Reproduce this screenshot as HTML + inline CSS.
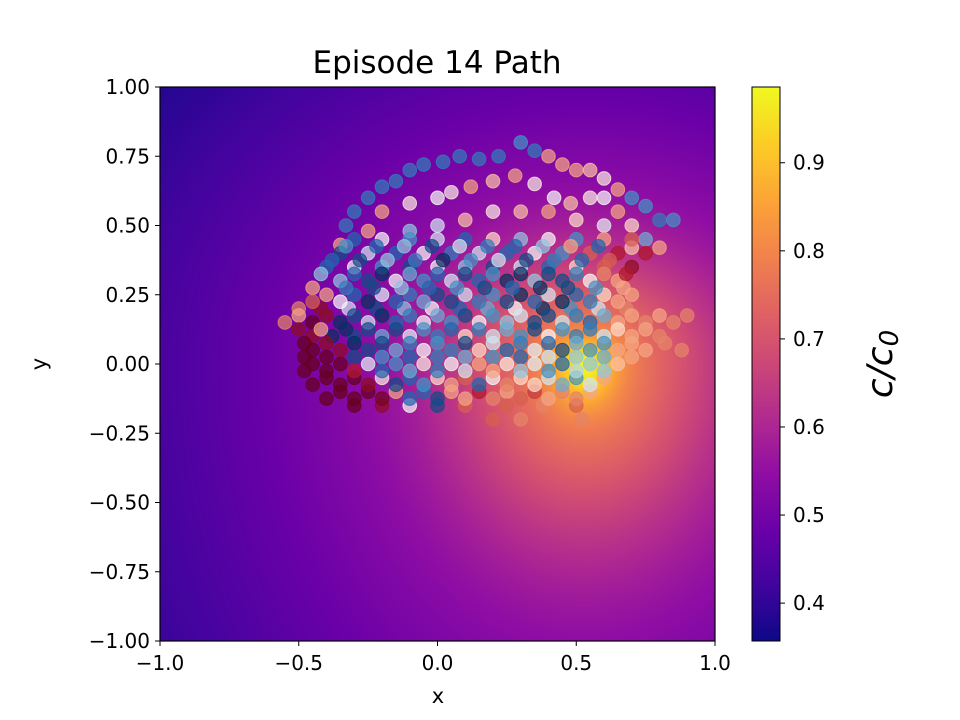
<!DOCTYPE html>
<html><head><meta charset="utf-8"><style>
body{margin:0;background:#fff;}
#wrap{position:relative;width:960px;height:720px;font-family:"Liberation Sans","DejaVu Sans",sans-serif;}
canvas{position:absolute;}
svg{position:absolute;left:0;top:0;}
text{font-family:"DejaVu Sans","Liberation Sans",sans-serif;fill:#000;}
</style></head><body>
<div id="wrap">
<canvas id="heat" width="555" height="554" style="left:160px;top:87px"></canvas>
<canvas id="cbar" width="28" height="554" style="left:752px;top:87px"></canvas>
<svg id="svg" width="960" height="720">
<g id="pts"></g>
<rect x="160" y="87" width="555" height="554" fill="none" stroke="#000" stroke-width="1.2"/>
<rect x="752" y="87" width="28" height="554" fill="none" stroke="#000" stroke-width="1"/>
<g id="axes"></g>
<text x="437" y="73" font-size="31" text-anchor="middle">Episode 14 Path</text>
<text x="438" y="703" font-size="21" text-anchor="middle">x</text>
<text x="0" y="0" font-size="21" text-anchor="middle" transform="translate(46,364) rotate(-90)">y</text>
<text x="0" y="0" font-size="36" font-style="italic" text-anchor="middle" transform="translate(892,364) rotate(-90)">c/c<tspan font-size="26" dy="6">0</tspan></text>
</svg>
</div>
<script>
const xTicks=[-1.0,-0.5,0.0,0.5,1.0];
const yTicks=[-1.0,-0.75,-0.5,-0.25,0.0,0.25,0.5,0.75,1.0];
const cTicks=[0.4,0.5,0.6,0.7,0.8,0.9];
const cMin=0.357, cMax=0.986;
const peakX=0.53, peakY=0.0;
const ringX=[-0.1,-0.05,0.02,0.08,0.15,0.22,0.3,0.35,0.4,0.45,0.5,0.55,0.6,0.65,0.7,0.75,0.8,0.85,-0.15,-0.2,-0.25,-0.3,-0.33,
 -0.2,-0.1,0,0.05,0.12,0.2,0.28,0.35,0.42,0.48,0.55,0.6,0.65,0.7,0.75,0.8,0.7,0.6,0.5,0.4,0.3,0.2,0.1,0,-0.1,-0.25,-0.35];
const ringY=[0.7,0.72,0.73,0.75,0.74,0.75,0.8,0.77,0.75,0.72,0.7,0.7,0.67,0.63,0.6,0.57,0.52,0.52,0.66,0.64,0.6,0.55,0.5,
 0.55,0.58,0.6,0.62,0.64,0.66,0.68,0.65,0.6,0.58,0.6,0.6,0.55,0.5,0.45,0.42,0.42,0.5,0.52,0.55,0.55,0.55,0.52,0.5,0.48,0.48,0.43];
const ringC=[0.85,0.85,0.85,0.85,0.85,0.85,0.8,0.85,0.3,0.3,0.3,0.35,0.45,0.3,0.8,0.8,0.85,0.8,0.85,0.85,0.85,0.85,0.85,
 0.3,0.45,0.5,0.45,0.3,0.35,0.3,0.45,0.5,0.35,0.45,0.5,0.3,0.4,0.75,0.3,0.35,0.55,0.4,0.3,0.35,0.45,0.35,0.6,0.7,0.3,0.3];
const rowYs=[0.45,0.4,0.35,0.3,0.25,0.2,0.15,0.1,0.05,0.0,-0.05,-0.1,-0.15,-0.2,
 0.425,0.375,0.325,0.275,0.225,0.175,0.125,0.075,0.025,-0.025,-0.075,-0.125];
const rowXs=[
[-0.3,-0.2,-0.1,0.0,0.1,0.2,0.3,0.4,0.5,0.6,0.7],
[-0.35,-0.25,-0.15,-0.05,0.05,0.15,0.25,0.35,0.45,0.55,0.65,0.75],
[-0.4,-0.3,-0.2,-0.1,0,0.1,0.2,0.3,0.4,0.5,0.6,0.7],
[-0.35,-0.25,-0.15,-0.05,0.05,0.15,0.25,0.35,0.45,0.55,0.65],
[-0.4,-0.3,-0.2,-0.1,0,0.1,0.2,0.3,0.4,0.5,0.6,0.7],
[-0.5,-0.42,-0.32,-0.22,-0.12,-0.02,0.08,0.18,0.28,0.38,0.48,0.58,0.68],
[-0.55,-0.45,-0.35,-0.25,-0.15,-0.05,0.05,0.15,0.25,0.35,0.45,0.55,0.65,0.75,0.85],
[-0.45,-0.38,-0.3,-0.2,-0.1,0,0.1,0.2,0.3,0.4,0.5,0.6,0.7,0.8],
[-0.45,-0.35,-0.25,-0.15,-0.05,0.05,0.15,0.25,0.35,0.45,0.55,0.65,0.75,0.88],
[-0.45,-0.35,-0.25,-0.15,-0.05,0.05,0.15,0.25,0.35,0.45,0.55,0.65],
[-0.4,-0.3,-0.2,-0.1,0,0.1,0.2,0.3,0.4,0.5,0.6],
[-0.35,-0.25,-0.15,-0.05,0.05,0.15,0.25,0.35,0.45,0.55],
[-0.3,-0.2,-0.1,0,0.1,0.25,0.38,0.5],
[0.2,0.3,0.52],
[-0.33,-0.22,-0.12,-0.02,0.08,0.18,0.28,0.38,0.48,0.58],
[-0.38,-0.28,-0.18,-0.08,0.02,0.12,0.22,0.32,0.42,0.52,0.62],
[-0.42,-0.3,-0.2,-0.1,0,0.1,0.2,0.3,0.4,0.5,0.6,0.68],
[-0.45,-0.33,-0.23,-0.13,-0.03,0.07,0.17,0.27,0.37,0.47,0.57,0.67],
[-0.45,-0.35,-0.25,-0.15,-0.05,0.05,0.15,0.25,0.35,0.45,0.55,0.65],
[-0.5,-0.4,-0.3,-0.2,-0.1,0,0.1,0.2,0.3,0.4,0.5,0.6,0.7,0.8,0.9],
[-0.5,-0.42,-0.33,-0.25,-0.15,-0.05,0.05,0.15,0.25,0.35,0.45,0.55,0.65,0.75],
[-0.48,-0.4,-0.3,-0.2,-0.1,0,0.1,0.2,0.3,0.4,0.5,0.6,0.7,0.82],
[-0.48,-0.4,-0.3,-0.2,-0.1,0,0.1,0.2,0.3,0.4,0.5,0.6,0.7],
[-0.48,-0.4,-0.3,-0.2,-0.1,0,0.1,0.2,0.3,0.4,0.5,0.6],
[-0.45,-0.35,-0.25,-0.15,-0.05,0.05,0.15,0.25,0.35,0.45,0.55],
[-0.4,-0.3,-0.2,-0.1,0,0.1,0.2,0.3,0.4,0.5]];
const rowCs=[
[0.9,0.5,0.8,0.6,0.9,0.4,0.7,0.5,0.8,0.3,0.2],
[0.95,0.6,0.9,0.5,0.85,0.6,0.9,0.5,0.8,0.2,0.1,0.1],
[0.9,0.5,0.8,0.95,0.5,0.7,0.95,0.6,0.9,0.4,0.2,0.05],
[0.7,0.95,0.5,0.8,0.6,0.9,1,0.7,0.95,0.5,0.3],
[0.3,0.9,0.55,0.85,0.95,0.6,0.8,1,0.6,0.9,0.4,0.3],
[0.25,0.05,0.6,0.95,0.7,0.5,0.9,0.75,0.5,1,0.8,0.6,0.25],
[0.25,0.0,1,0.6,0.9,0.5,0.8,0.5,0.7,0.95,0.6,0.9,0.3,0.25,0.25],
[0.05,1,0.95,0.75,0.55,0.85,0.4,0.6,0.8,0.5,0.85,0.6,0.3,0.25],
[0.0,0.05,0.95,0.75,0.5,0.85,0.4,0.9,0.55,0.95,0.8,0.3,0.3,0.25],
[0.0,0.0,0.55,0.8,0.45,0.5,0.3,0.45,0.55,0.9,0.7,0.35],
[0.0,0.0,0.45,0.9,0.4,0.2,0.5,0.4,0.6,0.8,0.3],
[0.0,0.0,0.3,0.9,0.3,0.1,0.3,0.15,0.25,0.3],
[0.0,0.05,0.5,0.95,0.2,0.2,0.25,0.2],
[0.2,0.25,0.25],
[0.8,0.9,0.7,0.95,0.6,0.85,0.9,0.7,0.3,0.9],
[0.9,0.95,0.7,0.85,1,0.8,0.6,0.95,0.85,0.9,0.2],
[0.7,0.9,1,0.75,0.9,0.95,0.8,1,0.95,0.85,0.25,0.1],
[0.3,0.85,0.95,0.7,0.9,0.8,0.95,0.9,1,0.95,0.8,0.3],
[0.2,0.5,1,0.9,0.75,0.95,0.85,0.95,0.9,1,0.85,0.3],
[0.3,0.05,0.95,1,0.85,0.75,0.95,0.8,0.6,0.95,0.85,0.75,0.3,0.3,0.25],
[0.05,0.3,1,0.95,0.95,0.8,0.9,0.85,0.75,0.95,0.8,0.85,0.4,0.3],
[0,0.05,1,0.95,0.85,0.8,0.95,0.6,0.85,0.9,0.75,0.8,0.3,0.25],
[0,0,0.95,0.8,0.9,0.85,0.75,0.8,0.9,0.6,0.7,0.75,0.3],
[0,0,0.1,0.9,0.75,0.85,0.6,0.3,0.7,0.8,0.65,0.7],
[0,0,0.05,0.95,0.8,0.3,0.9,0.25,0.4,0.75,0.6],
[0,0,0.02,0.9,0.95,0.3,0.25,0.2,0.3,0.25]];

const PX0=160,PX1=715,PY0=87,PY1=641;
function sx(x){return PX0+(x+1)/2*(PX1-PX0);}
function sy(y){return PY1-(y+1)/2*(PY1-PY0);}
function cy(c){return PY1-(c-cMin)/(cMax-cMin)*(PY1-PY0);}
function lerpStops(stops,t){t=Math.max(0,Math.min(1,t));const n=stops.length-1;const i=Math.min(n-1,Math.floor(t*n));const f=t*n-i;
 const a=stops[i],b=stops[i+1];return [0,1,2].map(k=>Math.round(a[k]+(b[k]-a[k])*f));}
function hex(h){return [parseInt(h.substr(1,2),16),parseInt(h.substr(3,2),16),parseInt(h.substr(5,2),16)];}
const plasma=['#0d0887','#41049d','#6a00a8','#8f0da4','#b12a90','#cc4778','#e16462','#f2844b','#fca636','#fcce25','#f0f921'].map(hex);
const rdbu=['#67001f','#b2182b','#d6604d','#f4a582','#fddbc7','#f7f7f7','#d1e5f0','#92c5de','#4393c3','#2166ac','#053061'].map(hex);
function field(x,y){const dy=y-peakY;const r2=(x-peakX)**2+dy*dy*(dy<0?0.6:1.5);
 return 0.33+0.26*Math.exp(-r2/2.5)+0.22*Math.exp(-r2/0.2)+0.17*Math.exp(-r2/0.012);}
(function(){const cv=document.getElementById('heat'),ctx=cv.getContext('2d');const W=cv.width,H=cv.height;const im=ctx.createImageData(W,H);
 for(let j=0;j<H;j++)for(let i=0;i<W;i++){const x=-1+2*(i+0.5)/W,y=1-2*(j+0.5)/H;const col=lerpStops(plasma,(field(x,y)-cMin)/(cMax-cMin));const p=(j*W+i)*4;im.data[p]=col[0];im.data[p+1]=col[1];im.data[p+2]=col[2];im.data[p+3]=255;}
 ctx.putImageData(im,0,0);
 const cb=document.getElementById('cbar'),c2=cb.getContext('2d');for(let j=0;j<cb.height;j++){const col=lerpStops(plasma,1-(j+0.5)/cb.height);c2.fillStyle='rgb('+col+')';c2.fillRect(0,j,cb.width,1);}
})();
const NS='http://www.w3.org/2000/svg';
const g=document.getElementById('pts');
function dot(x,y,c){const el=document.createElementNS(NS,'circle');el.setAttribute('cx',sx(x));el.setAttribute('cy',sy(y));el.setAttribute('r',6.8);
 const col=lerpStops(rdbu,c);el.setAttribute('fill','rgb('+col+')');el.setAttribute('fill-opacity','0.72');
 el.setAttribute('stroke','rgb('+col+')');el.setAttribute('stroke-opacity','0.8');el.setAttribute('stroke-width','1');
 
 
 g.appendChild(el);}
for(let k=0;k<ringX.length;k++)dot(ringX[k],ringY[k],ringC[k]);
for(let r=0;r<rowYs.length;r++)for(let k=0;k<rowXs[r].length;k++)dot(rowXs[r][k],rowYs[r],rowCs[r][k]);
const ax=document.getElementById('axes');
function mk(tag,attrs,txt){const el=document.createElementNS(NS,tag);for(const k in attrs)el.setAttribute(k,attrs[k]);if(txt!==undefined)el.textContent=txt;ax.appendChild(el);return el;}
function fmt(v,d){return (v<0?'\u2212':'')+Math.abs(v).toFixed(d);}
xTicks.forEach(v=>{const X=sx(v);
 const t=mk('line',{x1:X,x2:X,y1:PY1,y2:PY1+5,stroke:'#000'});
 const l=mk('text',{x:X,y:PY1+29,'font-size':20,'text-anchor':'middle'},fmt(v,1));});
yTicks.forEach(v=>{const Y=sy(v);
 const t=mk('line',{x1:PX0-5,x2:PX0,y1:Y,y2:Y,stroke:'#000'});
 const l=mk('text',{x:PX0-10,y:Y+7,'font-size':20,'text-anchor':'end'},fmt(v,2));});
cTicks.forEach(v=>{const Y=cy(v);
 const t=mk('line',{x1:780,x2:785,y1:Y,y2:Y,stroke:'#000'});
 const l=mk('text',{x:793,y:Y+7,'font-size':20},v.toFixed(1));});
</script>
</body></html>
